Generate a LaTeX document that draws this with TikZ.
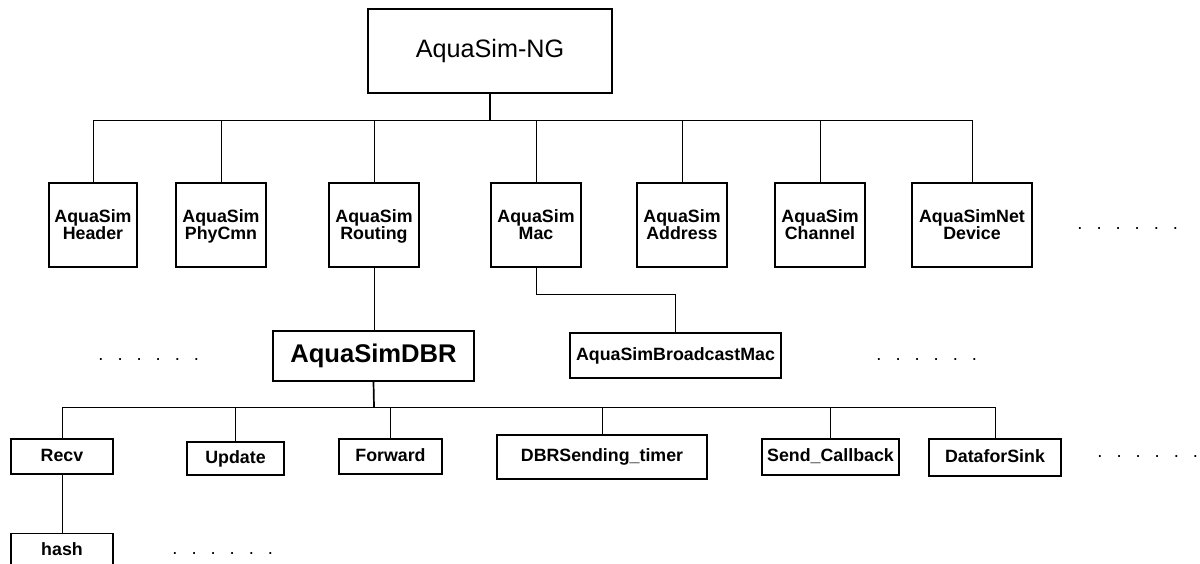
\documentclass[tikz,border=0pt]{standalone}
\usepackage{fontspec}
\setmainfont{Liberation Sans}
\usetikzlibrary{positioning}

\tikzset{
  topbox/.style={draw, line width=0.65pt, inner sep=0pt, minimum width=122pt, minimum height=42pt,
    font=\fontsize{12.6}{14}\selectfont},
  modbox/.style={draw, line width=0.65pt, inner sep=0pt, minimum height=42pt, align=center,
    font=\fontsize{8.9}{8.6}\selectfont\bfseries},
  dbrbox/.style={draw, line width=0.65pt, inner sep=0pt, minimum width=100.5pt, minimum height=25pt,
    font=\fontsize{12.8}{14}\selectfont\bfseries},
  funcbox/.style={draw, line width=0.65pt, inner sep=0pt, text height=6.4pt, text depth=1.9pt,
    font=\fontsize{8.9}{10}\selectfont\bfseries},
  conn/.style={line width=0.5pt},
  dotrow/.style={inner sep=0pt, anchor=base west, font=\fontsize{9.2}{10}\selectfont}
}
\newcommand{\sixdots}{.\kern7pt.\kern7pt.\kern7pt.\kern7pt.\kern7pt.}
\newcommand{\twolines}[2]{\rule{0pt}{7.6pt}#1\\#2\rule[-2pt]{0pt}{2pt}}

\begin{document}
\begin{tikzpicture}[x=0.5pt, y=-0.5pt]
  \useasboundingbox (0,0) rectangle (1200,563);

  \node[topbox] (ng) at (490,51) {AquaSim-NG};

  \foreach \name/\x/\w/\top/\bot in {header/93/44/AquaSim/Header, phycmn/221/45/AquaSim/PhyCmn,
      routing/374/45/AquaSim/Routing, mac/536/45/AquaSim/Mac, address/682/45/AquaSim/Address,
      channel/820/45/AquaSim/Channel, netdev/972/60/AquaSimNet/Device} {
    \node[modbox, minimum width=\w pt] (\name) at (\x,225) {\twolines{\top}{\bot}};
  }

  \node[dbrbox] (dbr) at (373.5,356) {AquaSimDBR};
  \node[funcbox, minimum width=105.5pt, minimum height=22.5pt] (bcast) at (675.5,355.5) {AquaSimBroadcastMac};

  \foreach \name/\x/\y/\w/\h/\txt in {recv/62/456.5/51/17.5/Recv, update/235.5/458.5/48.5/16.5/Update,
      forward/390.5/456.5/51.5/17.5/Forward, sending/602/457/105/22/DBRSending\_timer,
      callback/830.5/457/68.5/18/Send\_Callback, sink/995/457.5/66/18.5/DataforSink} {
    \node[funcbox, minimum width=\w pt, minimum height=\h pt] (\name) at (\x,\y) {\txt};
  }
  \node[funcbox, minimum width=51pt, minimum height=17.5pt, below=29pt of recv] (hash) {hash};

  \node[dotrow] (dotsa) at (1077,229.5) {\sixdots};
  \node[dotrow] (dotsb) at (98,360.5) {\sixdots};
  \node[dotrow] (dotsc) at (876,360.5) {\sixdots};
  \node[dotrow] (dotsd) at (1097,457.5) {\sixdots};
  \node[dotrow] (dotse) at (172,554.5) {\sixdots};

  \coordinate (topbar) at (490,120);
  \draw[line width=0.6pt] (ng.south) -- (topbar);
  \draw[conn] (header.north) -- (header.north |- topbar) -- (netdev.north |- topbar) -- (netdev.north);
  \foreach \name in {phycmn,routing,mac,address,channel} {
    \draw[conn] (\name.north) -- (\name.north |- topbar);
  }

  \draw[conn] (routing.south) -- (routing.south |- dbr.north);
  \coordinate (macbend) at (536,294);
  \draw[conn] (mac.south) -- (macbend) -| (bcast.north);

  \coordinate (dbrbar) at (374,407);
  \draw[line width=0.85pt] (dbr.south) -- (dbrbar);
  \draw[conn] (recv.north) -- (recv.north |- dbrbar) -- (sink.north |- dbrbar) -- (sink.north);
  \foreach \name in {update,forward,sending,callback} {
    \draw[conn] (\name.north) -- (\name.north |- dbrbar);
  }
  \draw[conn] (recv) -- (hash);
\end{tikzpicture}
\end{document}
